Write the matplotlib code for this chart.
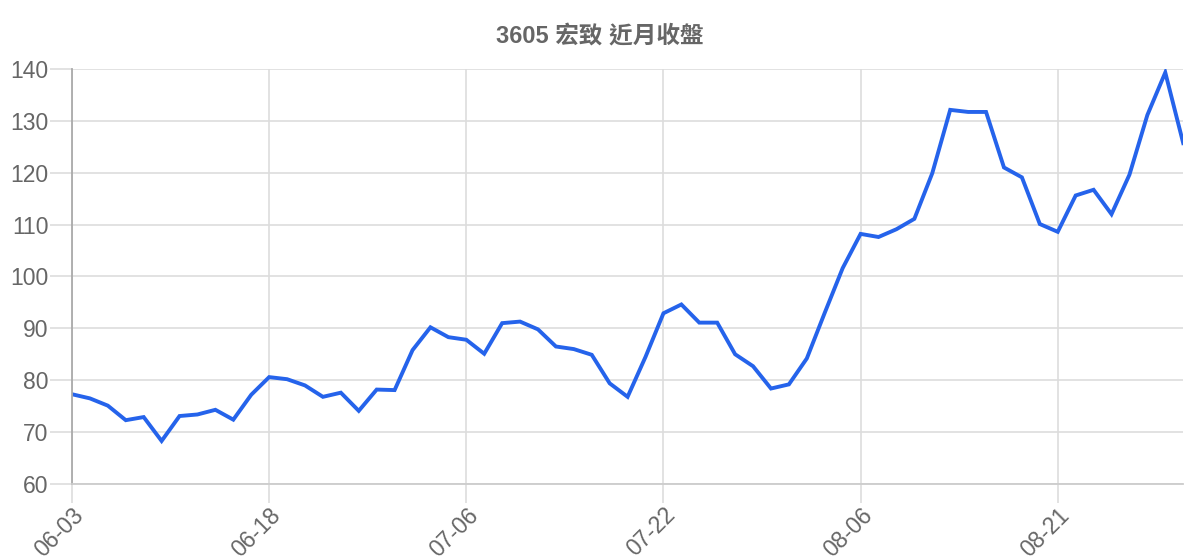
import matplotlib
matplotlib.use('Agg')
import matplotlib.pyplot as plt

# closing prices, one per trading day (06-03 .. 08-29)
closes = [77.3, 76.5, 75.1, 72.3, 72.9, 68.3, 73.1, 73.4, 74.3, 72.4,
          77.2, 80.6, 80.2, 79.0, 76.8, 77.6, 74.1, 78.2, 78.1, 85.8,
          90.2, 88.3, 87.8, 85.1, 91.0, 91.3, 89.8, 86.5, 86.0, 84.9,
          79.4, 76.8, 84.5, 92.9, 94.6, 91.1, 91.1, 85.0, 82.7, 78.4,
          79.2, 84.2, 93.0, 101.6, 108.2, 107.6, 109.1, 111.1, 119.9, 132.1,
          131.7, 131.7, 121.0, 119.1, 110.1, 108.6, 115.6, 116.7, 112.0, 119.6,
          131.1, 139.3, 125.7]
tick_labels = ['06-03', '06-18', '07-06', '07-22', '08-06', '08-21']
title = '3605 宏致 近月收盤'

plt.rcParams['font.family'] = ['Liberation Sans', 'Noto Sans CJK TC', 'DejaVu Sans']

fig = plt.figure(figsize=(12, 5.6), dpi=100)
ax = fig.add_axes([0.06, 0.1357, 0.926, 0.7413])

x = list(range(len(closes)))
ax.plot(x, closes, color='#2563eb', linewidth=2.8, solid_joinstyle='miter')

ax.set_xlim(0, len(closes) - 1)
ax.set_ylim(60, 140)
ax.set_yticks(range(60, 141, 10))
step = 11
ax.set_xticks(range(0, len(closes), step)[:len(tick_labels)])
ax.set_xticklabels(tick_labels, rotation=45, ha='right', rotation_mode='anchor')

ax.grid(True, color='#dddddd', linewidth=1.2)
ax.set_axisbelow(True)
for side in ['top', 'right']:
    ax.spines[side].set_visible(False)
ax.spines['left'].set_color('#aaaaaa')
ax.spines['left'].set_linewidth(1.3)
ax.spines['bottom'].set_color('#cccccc')
ax.spines['bottom'].set_linewidth(1.3)

ax.tick_params(axis='y', colors='#dddddd', labelcolor='#666666', labelsize=16.5, length=16, width=1.2, pad=1)
ax.tick_params(axis='x', colors='#dddddd', labelcolor='#666666', labelsize=16.5, length=14, width=1.2, pad=0)

fig.text(0.5, 0.935, title, ha='center', va='center', fontsize=17, fontweight='bold', color='#666666')

fig.savefig('out.png', dpi=100)
